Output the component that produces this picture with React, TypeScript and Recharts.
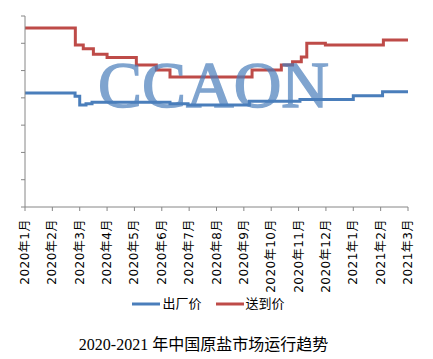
import React from "react";
import { LineChart, Line, XAxis, YAxis } from "recharts";

const monthLabels = [
  "2020年1月", "2020年2月", "2020年3月", "2020年4月", "2020年5月",
  "2020年6月", "2020年7月", "2020年8月", "2020年9月", "2020年10月",
  "2020年11月", "2020年12月", "2021年1月", "2021年2月", "2021年3月",
];
const monthTicks = [0, 1, 2, 3, 4, 5, 6, 7, 8, 9, 10, 11, 12, 13, 14];
const yTicks = [0, 50, 100, 150, 200, 250, 300, 350];

// 出厂价 (ex-factory price): change points (month index) and values
const exFactoryX = [0, 1.83, 2.0, 2.23, 2.45, 5.3, 5.96, 8.2, 10.05, 12.0, 13.07, 14];
const exFactoryY = [209, 203, 187, 189, 192, 189, 187, 194, 197, 204, 211, 211];

// 送到价 (delivered price)
const deliveredX = [0, 1.84, 2.13, 2.5, 3.0, 4.07, 4.8, 5.3, 8.3, 9.37, 9.78, 10.1, 10.3, 10.98, 13.1, 14];
const deliveredY = [328, 297, 290, 280, 274, 260, 251, 238, 251, 260, 266, 275, 300, 297, 306, 306];

const exFactoryData = exFactoryX.map((m, i) => ({ m, v: exFactoryY[i] }));
const deliveredData = deliveredX.map((m, i) => ({ m, v: deliveredY[i] }));

const BLUE = "#4a7ebb";
const RED = "#be4b48";
const AXIS = "#868686";

const MonthTick = (props: any) => {
  const { x, y, payload } = props;
  const label = monthLabels[payload.value] ?? "";
  return (
    <g transform={`translate(${x},${y + 6})`}>
      <text
        transform="rotate(-90)"
        textAnchor="end"
        dominantBaseline="central"
        fontSize={12}
        fill="#000"
        fontFamily="'DejaVu Sans', 'Noto Sans CJK SC', sans-serif"
        style={{ letterSpacing: "0.5px" }}
      >
        {label}
      </text>
    </g>
  );
};

export default function App() {
  return (
    <div style={{ position: "absolute", left: 0, top: 0, width: 433, height: 359, background: "#fff" }}>
      <LineChart
        width={433}
        height={359}
        margin={{ top: 16, right: 25, left: 24, bottom: 82 }}
      >
        <XAxis
          type="number"
          dataKey="m"
          domain={[0, 14]}
          ticks={monthTicks}
          allowDataOverflow
          axisLine={{ stroke: AXIS, strokeWidth: 1 }}
          tickLine={{ stroke: AXIS }}
          tickSize={4}
          tick={<MonthTick />}
          height={70}
          interval={0}
        />
        <YAxis
          type="number"
          domain={[0, 350]}
          ticks={yTicks}
          width={1}
          axisLine={{ stroke: AXIS, strokeWidth: 1 }}
          tickLine={{ stroke: AXIS }}
          tickSize={4}
          tickFormatter={() => ""}
        />
        <Line
          data={exFactoryData}
          dataKey="v"
          type="stepAfter"
          stroke={BLUE}
          strokeWidth={3}
          dot={false}
          isAnimationActive={false}
          name="出厂价"
        />
        <Line
          data={deliveredData}
          dataKey="v"
          type="stepAfter"
          stroke={RED}
          strokeWidth={3}
          dot={false}
          isAnimationActive={false}
          name="送到价"
        />
      </LineChart>

      {/* watermark */}
      <div
        style={{
          position: "absolute",
          left: 98,
          top: 52,
          fontFamily: "'Liberation Serif', serif",
          fontSize: 66,
          lineHeight: "66px",
          color: "#4a7ebb",
          WebkitTextStroke: "1.5px #4a7ebb",
          opacity: 0.7,
          pointerEvents: "none",
          whiteSpace: "nowrap",
        }}
      >
        CCAON
      </div>

      {/* legend */}
      <div
        style={{
          position: "absolute",
          left: 0,
          top: 295,
          width: 433,
          display: "flex",
          justifyContent: "center",
          alignItems: "center",
          fontFamily: "'DejaVu Sans', 'Noto Sans CJK SC', sans-serif",
          fontSize: 13,
          lineHeight: "18px",
          color: "#000",
          gap: 14,
          paddingRight: 16,
          boxSizing: "border-box",
        }}
      >
        <div style={{ display: "flex", alignItems: "center" }}>
          <svg width={28} height={6} style={{ marginRight: 2 }}>
            <line x1={0} y1={3} x2={28} y2={3} stroke={BLUE} strokeWidth={3} />
          </svg>
          <span>出厂价</span>
        </div>
        <div style={{ display: "flex", alignItems: "center" }}>
          <svg width={28} height={6} style={{ marginRight: 2 }}>
            <line x1={0} y1={3} x2={28} y2={3} stroke={RED} strokeWidth={3} />
          </svg>
          <span>送到价</span>
        </div>
      </div>

      {/* title */}
      <div
        style={{
          position: "absolute",
          left: 0,
          top: 334,
          width: 433,
          textAlign: "center",
          fontFamily: "'Liberation Serif', 'Noto Sans CJK SC', serif",
          fontSize: 16,
          lineHeight: "22px",
          color: "#000",
          paddingRight: 26,
          boxSizing: "border-box",
        }}
      >
        2020-2021 年中国原盐市场运行趋势
      </div>
    </div>
  );
}
